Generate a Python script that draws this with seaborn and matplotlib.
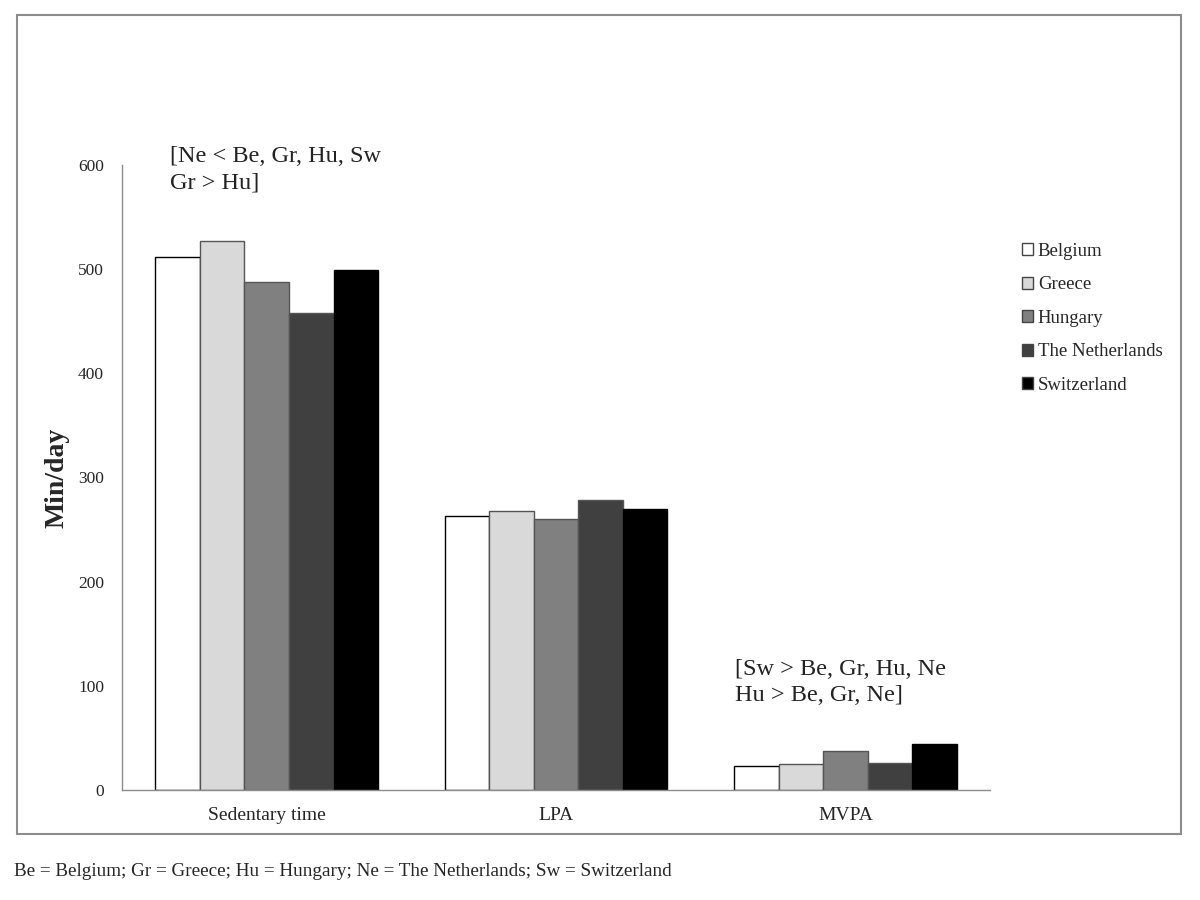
import numpy as np
import pandas as pd
import matplotlib
matplotlib.use('Agg')
import matplotlib.pyplot as plt
import seaborn as sb
from matplotlib.patches import Rectangle, Patch

# Data (min/day)
categories = ['Sedentary time', 'LPA', 'MVPA']
countries = ['Belgium', 'Greece', 'Hungary', 'The Netherlands', 'Switzerland']
belgium = [512, 263, 23]
greece = [527, 268, 25]
hungary = [488, 260, 37]
netherlands = [458, 278, 26]
switzerland = [499, 270, 44]
colours = ['#ffffff', '#d9d9d9', '#808080', '#404040', '#000000']
edges = ['#000000', '#555555', '#555555', '#555555', '#000000']

rows = []
for name, vals in zip(countries, [belgium, greece, hungary, netherlands, switzerland]):
    for cat, v in zip(categories, vals):
        rows.append({'category': cat, 'country': name, 'value': v})
data = pd.DataFrame(rows)

sb.set_style('white')
plt.rcParams['font.family'] = ['Liberation Serif', 'DejaVu Serif']

fig = plt.figure(figsize=(12, 9), dpi=100)
ax = fig.add_axes([0.1017, 0.1222, 0.7233, 0.6945])

sb.barplot(data=data, x='category', y='value', hue='country', order=categories,
           hue_order=countries, palette=colours, width=0.77, gap=0,
           saturation=1, ax=ax, legend=False)

# Edges: black on the white bars, grey on the rest
for i, cont in enumerate(ax.containers):
    for bar in cont:
        bar.set_edgecolor(edges[i])
        bar.set_linewidth(1.0)

ax.set_ylim(0, 600)
ax.set_xlim(-0.5, 2.5)
ax.set_yticks(range(0, 601, 100))
ax.tick_params(axis='y', length=0, labelsize=12.5, pad=13)
ax.tick_params(axis='x', length=0, labelsize=14, pad=12)
ax.set_xlabel('')
ax.set_ylabel('Min/day', fontsize=20, fontweight='bold', labelpad=6)
for side in ['top', 'right']:
    ax.spines[side].set_visible(False)
for side in ['left', 'bottom']:
    ax.spines[side].set_color('#8c8c8c')
    ax.spines[side].set_linewidth(1.0)

handles = [Patch(facecolor=c, edgecolor='#444444', linewidth=1.0) for c in colours]
ax.legend(handles, countries, loc='upper left', bbox_to_anchor=(1005 / 1200, 1 - 226 / 900),
          bbox_transform=fig.transFigure, frameon=False, fontsize=13.5,
          handlelength=0.6, handleheight=0.6, handletextpad=0.25, labelspacing=0.88)

# Significance annotations
ax.text(-0.334, 618, '[Ne < Be, Gr, Hu, Sw\nGr > Hu]', fontsize=17.5,
        ha='left', va='top', linespacing=1.35, color='#222222')
ax.text(1.619, 126, '[Sw > Be, Gr, Hu, Ne\nHu > Be, Gr, Ne]', fontsize=17.5,
        ha='left', va='top', linespacing=1.35, color='#222222')

# Outer chart border
fig.patches.append(Rectangle((17 / 1200, 1 - 834 / 900), (1181 - 17) / 1200, (834 - 15) / 900,
                             transform=fig.transFigure, fill=False,
                             edgecolor='#8c8c8c', linewidth=1.5))

fig.text(14 / 1200, 1 - 871 / 900,
         'Be = Belgium; Gr = Greece; Hu = Hungary; Ne = The Netherlands; Sw = Switzerland',
         fontsize=13.8, ha='left', va='center')

plt.savefig('out.png', dpi=100)
